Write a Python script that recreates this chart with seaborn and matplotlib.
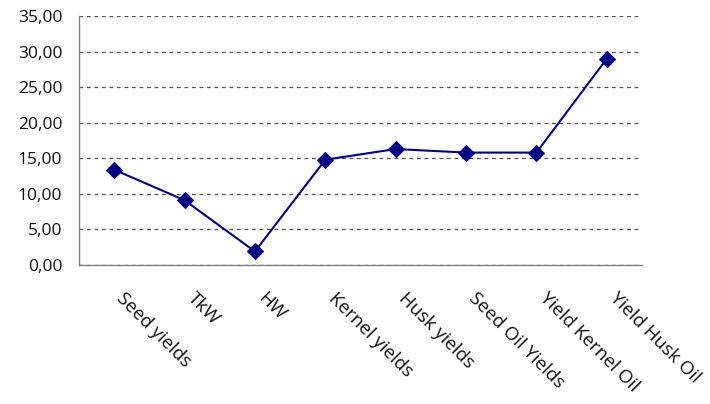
import matplotlib
matplotlib.use("Agg")
import matplotlib.pyplot as plt
import matplotlib.transforms as mtransforms
from matplotlib.ticker import FuncFormatter, FixedLocator
import seaborn as sns
import pandas as pd
import numpy as np

categories = ["Seed yields", "TkW", "HW", "Kernel yields", "Husk yields",
              "Seed Oil Yields", "Yield Kernel Oil", "Yield Husk Oil"]
values = [13.4, 9.1, 1.9, 14.8, 16.3, 15.8, 15.8, 29.0]
y_ticks = [0, 5, 10, 15, 20, 25, 30, 35]

df = pd.DataFrame({"pos": np.arange(len(categories)), "value": values})

sns.set_style("white")
plt.rcParams["font.family"] = ["Open Sans", "DejaVu Sans"]

fig = plt.figure(figsize=(7.10, 4.04), dpi=100)
ax = fig.add_axes([79 / 710, (404 - 265) / 404, (642 - 79) / 710, (265 - 16) / 404])

sns.lineplot(data=df, x="pos", y="value", ax=ax, color="#000080",
             linewidth=1.5, marker="D", markersize=8,
             markeredgecolor="#000080", markerfacecolor="#000080")

ax.set_xlim(-0.5, len(categories) - 0.5)
ax.set_ylim(0, 35)
ax.set_yticks(y_ticks)
ax.yaxis.set_major_formatter(FuncFormatter(lambda v, p: f"{v:.2f}".replace(".", ",")))
ax.yaxis.grid(True, linestyle=(0, (3, 3)), color="#555555", linewidth=0.9)
ax.set_axisbelow(True)

# category names, slanted down to the right below each point
ax.set_xticks(df["pos"])
ax.set_xticklabels([])
label_tf = mtransforms.blended_transform_factory(ax.transData, ax.transAxes) + \
    mtransforms.ScaledTranslation(12 / 100, -24 / 100, fig.dpi_scale_trans)
for pos, name in zip(df["pos"], categories):
    ax.text(pos, 0, name, transform=label_tf, rotation=-45, ha="left", va="top",
            rotation_mode="anchor", fontsize=13.5, color="#111111", clip_on=False)

ax.xaxis.set_minor_locator(FixedLocator(np.arange(0.5, len(categories) - 0.5, 1.0)))
ax.tick_params(axis="x", which="major", length=0)
ax.tick_params(axis="x", which="minor", length=6, width=1, color="#808080", direction="out")
ax.tick_params(axis="y", length=6, width=1, color="#808080", direction="out",
               labelsize=12.5, pad=6, labelcolor="#111111")

ax.set_xlabel("")
ax.set_ylabel("")
for side in ["top", "right"]:
    ax.spines[side].set_visible(False)
for side in ["left", "bottom"]:
    ax.spines[side].set_color("#808080")
    ax.spines[side].set_linewidth(1)

fig.savefig("out.png", dpi=100)
